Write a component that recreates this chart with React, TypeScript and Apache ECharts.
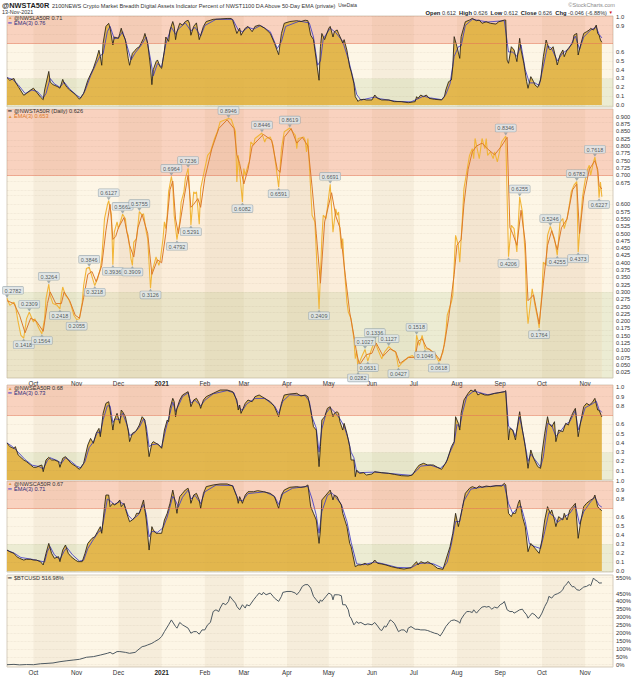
import React, { useEffect, useRef } from "react";
import * as echarts from "echarts";

// x values are calendar days counted from 2020-09-12 (day 0)
const START = Date.UTC(2020, 8, 12);
const DAY = 86400000;
const SPAN_DAYS = 435;

const monthStarts = ["2020-10-01", "2020-11-01", "2020-12-01", "2021-01-01", "2021-02-01", "2021-03-01", "2021-04-01", "2021-05-01", "2021-06-01", "2021-07-01", "2021-08-01", "2021-09-01", "2021-10-01", "2021-11-01"];
const monthLabels = ["Oct", "Nov", "Dec", "2021", "Feb", "Mar", "Apr", "May", "Jun", "Jul", "Aug", "Sep", "Oct", "Nov"];

const breadthTicks = [0, 0.1, 0.2, 0.3, 0.4, 0.5, 0.6, 0.7, 0.8, 0.9, 1.0];
const breadthTicksNoZero = [0.1, 0.2, 0.3, 0.4, 0.5, 0.6, 0.7, 0.8, 0.9, 1.0];
const mainTicks = [0.025, 0.05, 0.075, 0.1, 0.125, 0.15, 0.175, 0.2, 0.225, 0.25, 0.275, 0.3, 0.325, 0.35, 0.375, 0.4, 0.425, 0.45, 0.475, 0.5, 0.525, 0.55, 0.575, 0.6, 0.625, 0.65, 0.675, 0.7, 0.725, 0.75, 0.775, 0.8, 0.825, 0.85, 0.875, 0.9];
const btcTicks = [0, 50, 100, 150, 200, 250, 300, 350, 400, 450, 500, 550];

// @NWSLA50R  [day, value]
const nwsla50r = [[0,0.31],[2,0.28],[5,0.30],[6,0.26],[8,0.21],[12,0.11],[14,0.13],[17,0.17],[19,0.19],[21,0.15],[24,0.09],[26,0.06],[27,0.17],[30,0.38],[31,0.26],[33,0.23],[36,0.21],[38,0.19],[40,0.29],[41,0.25],[43,0.20],[45,0.17],[49,0.12],[52,0.065],[55,0.13],[58,0.28],[62,0.415],[64,0.51],[66,0.62],[67,0.55],[68,0.45],[69,0.70],[71,0.89],[73,0.925],[74,0.87],[76,0.68],[77,0.77],[80,0.755],[81,0.81],[82,0.87],[83,0.81],[85,0.74],[87,0.53],[88,0.45],[90,0.585],[92,0.62],[93,0.64],[95,0.66],[98,0.755],[99,0.81],[101,0.70],[103,0.43],[104,0.23],[105,0.40],[107,0.49],[108,0.51],[110,0.43],[111,0.415],[113,0.62],[114,0.77],[116,0.72],[117,0.85],[119,0.945],[120,0.89],[121,0.74],[122,0.83],[124,0.925],[126,0.905],[128,0.945],[130,0.96],[131,0.925],[132,0.79],[134,0.89],[136,0.93],[137,0.83],[138,0.74],[141,0.89],[143,0.945],[148,0.97],[153,0.975],[158,0.98],[161,0.98],[162,0.96],[165,0.81],[167,0.87],[168,0.79],[171,0.87],[173,0.89],[176,0.83],[178,0.89],[181,0.905],[185,0.87],[189,0.81],[192,0.70],[195,0.57],[197,0.81],[199,0.925],[203,0.945],[208,0.955],[211,0.945],[214,0.96],[216,0.955],[218,0.79],[220,0.74],[222,0.51],[224,0.28],[225,0.66],[226,0.81],[228,0.74],[231,0.87],[232,0.89],[234,0.77],[235,0.83],[237,0.85],[238,0.81],[240,0.74],[241,0.70],[242,0.74],[244,0.62],[246,0.43],[247,0.38],[249,0.245],[250,0.094],[252,0.04],[253,0.057],[256,0.064],[258,0.057],[262,0.057],[264,0.113],[266,0.075],[269,0.057],[274,0.057],[278,0.038],[283,0.038],[288,0.026],[293,0.038],[294,0.094],[295,0.075],[297,0.113],[299,0.094],[301,0.113],[303,0.075],[307,0.064],[312,0.057],[314,0.094],[315,0.17],[317,0.264],[319,0.283],[320,0.434],[321,0.774],[323,0.66],[325,0.528],[326,0.774],[328,0.887],[329,0.943],[332,0.962],[334,0.981],[337,0.955],[339,0.962],[341,0.925],[344,0.943],[347,0.925],[351,0.917],[353,0.943],[357,0.962],[358,0.962],[359,0.509],[360,0.472],[362,0.66],[364,0.623],[366,0.491],[368,0.755],[369,0.623],[371,0.472],[373,0.264],[374,0.189],[376,0.321],[378,0.264],[379,0.226],[381,0.20],[383,0.283],[385,0.547],[387,0.736],[389,0.642],[390,0.623],[392,0.66],[394,0.528],[395,0.453],[397,0.566],[399,0.623],[400,0.547],[402,0.623],[403,0.642],[406,0.698],[407,0.792],[409,0.811],[410,0.566],[412,0.698],[414,0.811],[416,0.83],[418,0.849],[419,0.868],[421,0.849],[423,0.906],[424,0.811],[425,0.792],[426,0.736],[427,0.71]];
const nwsla50rEma = [[0,0.31],[4,0.29],[8,0.23],[13,0.13],[18,0.17],[22,0.15],[26,0.08],[28,0.13],[31,0.30],[34,0.24],[38,0.20],[41,0.26],[45,0.18],[50,0.11],[53,0.08],[56,0.16],[60,0.33],[64,0.47],[67,0.56],[69,0.58],[72,0.83],[74,0.89],[77,0.75],[80,0.76],[83,0.83],[86,0.68],[89,0.51],[92,0.59],[96,0.67],[100,0.77],[103,0.52],[105,0.33],[108,0.47],[111,0.43],[114,0.69],[118,0.88],[121,0.80],[123,0.86],[128,0.93],[132,0.84],[135,0.88],[139,0.78],[142,0.90],[150,0.97],[162,0.97],[166,0.85],[169,0.83],[173,0.88],[177,0.86],[182,0.90],[189,0.83],[194,0.64],[197,0.72],[200,0.89],[210,0.95],[217,0.93],[220,0.77],[223,0.45],[225,0.50],[227,0.75],[232,0.87],[236,0.82],[241,0.72],[245,0.52],[248,0.33],[251,0.12],[254,0.055],[264,0.09],[268,0.07],[280,0.04],[290,0.035],[295,0.07],[299,0.10],[304,0.08],[312,0.06],[315,0.12],[318,0.24],[321,0.55],[324,0.66],[326,0.67],[329,0.90],[334,0.97],[345,0.94],[357,0.955],[360,0.60],[363,0.60],[366,0.55],[369,0.68],[372,0.40],[375,0.25],[379,0.25],[382,0.22],[385,0.44],[388,0.67],[391,0.64],[395,0.50],[399,0.59],[403,0.63],[408,0.78],[411,0.63],[414,0.77],[419,0.85],[423,0.88],[425,0.80],[427,0.76]];

// @NWSTA50R (main panel)  [day, value]
const nwsta50r = [[0,0.2782],[2,0.254],[5,0.265],[6,0.254],[8,0.197],[10,0.151],[12,0.1418],[14,0.208],[16,0.2309],[18,0.208],[19,0.197],[20,0.208],[22,0.185],[23,0.175],[25,0.1564],[27,0.208],[28,0.277],[30,0.3264],[31,0.288],[33,0.26],[36,0.254],[38,0.2418],[39,0.288],[40,0.317],[42,0.288],[44,0.277],[46,0.254],[48,0.22],[50,0.2055],[52,0.208],[54,0.265],[55,0.322],[57,0.38],[59,0.3846],[63,0.3218],[65,0.345],[67,0.38],[68,0.414],[70,0.551],[72,0.597],[73,0.6127],[75,0.563],[76,0.3936],[77,0.505],[79,0.54],[80,0.517],[83,0.5662],[85,0.551],[86,0.505],[87,0.494],[89,0.414],[90,0.3909],[91,0.471],[93,0.483],[95,0.5755],[97,0.563],[98,0.568],[100,0.505],[101,0.483],[103,0.3126],[104,0.368],[106,0.402],[107,0.42],[109,0.391],[110,0.408],[112,0.483],[113,0.54],[114,0.517],[115,0.563],[116,0.643],[118,0.6964],[119,0.666],[120,0.563],[122,0.4792],[124,0.54],[125,0.608],[127,0.643],[128,0.688],[130,0.7236],[131,0.654],[132,0.5291],[134,0.643],[135,0.637],[136,0.643],[138,0.532],[139,0.654],[141,0.70],[144,0.768],[146,0.78],[149,0.826],[151,0.849],[153,0.883],[159,0.8946],[161,0.892],[164,0.849],[165,0.677],[166,0.768],[167,0.711],[169,0.6082],[170,0.723],[171,0.70],[173,0.734],[174,0.746],[175,0.814],[177,0.803],[178,0.826],[183,0.8446],[185,0.814],[186,0.826],[189,0.831],[191,0.803],[193,0.734],[195,0.6591],[197,0.791],[199,0.849],[203,0.8619],[205,0.849],[207,0.837],[208,0.791],[209,0.826],[213,0.831],[214,0.82],[215,0.78],[216,0.826],[219,0.563],[221,0.54],[224,0.2409],[226,0.483],[227,0.563],[229,0.551],[232,0.6691],[234,0.505],[236,0.585],[237,0.563],[238,0.574],[240,0.448],[241,0.483],[242,0.391],[244,0.265],[245,0.231],[247,0.208],[248,0.174],[249,0.14],[250,0.071],[251,0.099],[252,0.0282],[253,0.059],[255,0.082],[257,0.1027],[259,0.0631],[261,0.094],[264,0.1336],[266,0.105],[269,0.071],[271,0.094],[274,0.1127],[277,0.099],[279,0.094],[281,0.0427],[284,0.059],[288,0.076],[291,0.082],[293,0.071],[294,0.1518],[296,0.117],[298,0.151],[300,0.1046],[303,0.105],[307,0.088],[310,0.0618],[313,0.094],[315,0.162],[316,0.22],[319,0.265],[320,0.288],[322,0.494],[324,0.46],[325,0.402],[327,0.563],[328,0.654],[330,0.711],[332,0.768],[334,0.791],[335,0.757],[336,0.826],[338,0.78],[339,0.757],[341,0.826],[343,0.791],[344,0.826],[345,0.768],[347,0.78],[349,0.757],[350,0.78],[352,0.746],[354,0.791],[355,0.814],[358,0.8346],[360,0.4206],[362,0.528],[364,0.517],[366,0.437],[368,0.6255],[370,0.574],[372,0.425],[373,0.254],[374,0.191],[377,0.311],[379,0.254],[381,0.208],[382,0.1764],[384,0.30],[385,0.402],[387,0.391],[388,0.494],[390,0.5246],[393,0.483],[395,0.4255],[397,0.54],[399,0.551],[400,0.517],[402,0.551],[404,0.608],[405,0.643],[407,0.666],[409,0.6782],[410,0.4373],[413,0.62],[414,0.654],[416,0.711],[418,0.734],[419,0.70],[421,0.746],[422,0.7618],[424,0.711],[425,0.6227],[426,0.677],[427,0.626]];
const nwsta50rEma = [[0,0.27],[5,0.26],[9,0.22],[13,0.16],[17,0.21],[21,0.20],[26,0.165],[29,0.26],[31,0.30],[35,0.26],[39,0.26],[41,0.30],[45,0.27],[49,0.22],[52,0.21],[55,0.28],[58,0.36],[61,0.37],[64,0.335],[68,0.39],[71,0.51],[74,0.60],[76,0.48],[78,0.49],[80,0.52],[84,0.555],[88,0.46],[91,0.42],[94,0.52],[97,0.565],[101,0.50],[104,0.36],[108,0.41],[111,0.40],[114,0.50],[117,0.65],[119,0.68],[121,0.55],[123,0.50],[127,0.62],[130,0.70],[132,0.59],[134,0.60],[137,0.62],[139,0.59],[142,0.69],[147,0.79],[152,0.86],[158,0.89],[163,0.86],[165,0.77],[167,0.74],[170,0.67],[173,0.72],[176,0.80],[184,0.84],[190,0.82],[194,0.72],[196,0.71],[199,0.83],[204,0.86],[208,0.81],[212,0.83],[216,0.80],[219,0.66],[222,0.50],[225,0.33],[228,0.54],[233,0.64],[236,0.56],[239,0.52],[243,0.35],[246,0.23],[249,0.15],[251,0.09],[253,0.05],[258,0.085],[262,0.09],[265,0.125],[270,0.08],[275,0.105],[279,0.095],[282,0.055],[288,0.075],[293,0.076],[295,0.13],[298,0.14],[301,0.11],[307,0.09],[311,0.065],[314,0.12],[317,0.21],[321,0.36],[323,0.46],[326,0.48],[328,0.60],[331,0.72],[334,0.78],[337,0.80],[341,0.81],[345,0.79],[350,0.77],[355,0.80],[359,0.83],[361,0.52],[363,0.50],[366,0.46],[369,0.58],[372,0.47],[374,0.27],[378,0.29],[382,0.19],[385,0.33],[388,0.46],[391,0.51],[395,0.445],[398,0.52],[402,0.55],[406,0.65],[409,0.67],[411,0.50],[414,0.63],[418,0.72],[422,0.75],[424,0.72],[425,0.665],[427,0.653]];
// labelled swing points of the main panel: [day, side]
const mainSwingLabels = [[0,"t"],[12,"b"],[16,"t"],[25,"b"],[30,"t"],[38,"b"],[50,"b"],[59,"t"],[63,"b"],[73,"t"],[76,"b"],[83,"t"],[90,"b"],[95,"t"],[103,"b"],[118,"t"],[122,"b"],[130,"t"],[132,"b"],[159,"t"],[169,"b"],[183,"t"],[195,"b"],[203,"t"],[224,"b"],[232,"t"],[252,"b"],[257,"t"],[259,"b"],[264,"t"],[274,"t"],[281,"b"],[294,"t"],[300,"b"],[310,"b"],[358,"t"],[360,"b"],[368,"t"],[382,"b"],[390,"t"],[395,"b"],[409,"t"],[410,"b"],[422,"t"],[425,"b"]];

// @NWSEA50R
const nwsea50r = [[0,0.40],[2,0.36],[5,0.34],[6,0.36],[8,0.27],[12,0.216],[14,0.198],[17,0.162],[19,0.137],[21,0.137],[23,0.151],[25,0.162],[26,0.09],[28,0.216],[30,0.245],[32,0.216],[34,0.216],[37,0.198],[38,0.137],[40,0.234],[42,0.252],[44,0.216],[46,0.18],[49,0.151],[52,0.115],[55,0.18],[58,0.378],[60,0.449],[62,0.396],[64,0.504],[66,0.557],[67,0.467],[68,0.593],[69,0.719],[71,0.827],[73,0.845],[74,0.755],[76,0.539],[77,0.647],[79,0.719],[81,0.611],[82,0.755],[83,0.737],[85,0.683],[87,0.539],[88,0.414],[90,0.504],[92,0.521],[93,0.539],[95,0.593],[97,0.683],[99,0.647],[100,0.521],[102,0.252],[104,0.396],[105,0.414],[107,0.396],[109,0.378],[110,0.36],[111,0.342],[113,0.539],[115,0.647],[116,0.629],[117,0.773],[119,0.881],[120,0.845],[121,0.683],[122,0.773],[124,0.863],[126,0.917],[128,0.935],[130,0.953],[131,0.881],[132,0.791],[134,0.863],[136,0.881],[138,0.827],[139,0.773],[141,0.863],[143,0.899],[148,0.935],[153,0.971],[158,0.971],[162,0.953],[165,0.863],[166,0.755],[167,0.809],[168,0.719],[171,0.827],[173,0.863],[176,0.845],[178,0.899],[181,0.917],[185,0.881],[189,0.845],[192,0.791],[195,0.683],[197,0.827],[199,0.917],[203,0.928],[208,0.935],[211,0.906],[214,0.917],[216,0.899],[218,0.755],[220,0.575],[222,0.539],[224,0.144],[225,0.36],[226,0.647],[228,0.683],[230,0.773],[232,0.791],[234,0.683],[235,0.719],[237,0.737],[238,0.719],[239,0.629],[241,0.539],[242,0.611],[244,0.504],[246,0.36],[247,0.216],[249,0.216],[250,0.036],[251,0.108],[253,0.072],[256,0.079],[258,0.054],[262,0.065],[264,0.09],[269,0.079],[274,0.072],[278,0.061],[283,0.047],[288,0.043],[291,0.054],[294,0.126],[296,0.162],[299,0.18],[302,0.162],[306,0.162],[309,0.137],[312,0.115],[314,0.162],[316,0.216],[319,0.36],[321,0.414],[322,0.683],[324,0.611],[325,0.539],[326,0.719],[328,0.863],[331,0.935],[333,0.971],[335,0.953],[336,0.978],[338,0.917],[340,0.935],[343,0.917],[346,0.917],[350,0.935],[353,0.942],[357,0.953],[358,0.964],[360,0.432],[361,0.557],[363,0.539],[365,0.432],[367,0.647],[368,0.737],[370,0.539],[372,0.36],[374,0.126],[376,0.324],[378,0.234],[381,0.144],[383,0.126],[384,0.288],[386,0.504],[388,0.683],[389,0.611],[391,0.575],[393,0.629],[394,0.414],[396,0.539],[399,0.521],[401,0.611],[403,0.593],[404,0.647],[406,0.719],[408,0.773],[410,0.467],[412,0.647],[414,0.791],[416,0.827],[418,0.809],[420,0.834],[422,0.881],[424,0.755],[425,0.755],[427,0.68]];
const nwsea50rEma = [[0,0.40],[4,0.36],[8,0.30],[13,0.22],[18,0.16],[23,0.145],[26,0.12],[29,0.21],[31,0.24],[36,0.21],[39,0.18],[42,0.24],[46,0.20],[50,0.15],[53,0.13],[56,0.20],[59,0.35],[62,0.41],[65,0.52],[67,0.50],[69,0.65],[72,0.80],[74,0.80],[76,0.62],[78,0.66],[81,0.65],[83,0.72],[86,0.60],[88,0.48],[91,0.50],[95,0.57],[98,0.66],[100,0.58],[102,0.36],[104,0.38],[108,0.39],[111,0.35],[114,0.55],[117,0.72],[119,0.84],[121,0.74],[123,0.80],[126,0.90],[130,0.94],[132,0.83],[135,0.86],[139,0.80],[142,0.86],[148,0.93],[158,0.965],[163,0.94],[166,0.79],[169,0.75],[172,0.82],[178,0.88],[185,0.88],[192,0.80],[195,0.72],[198,0.85],[203,0.92],[214,0.91],[217,0.85],[219,0.68],[222,0.56],[224,0.30],[226,0.55],[229,0.72],[232,0.78],[236,0.72],[239,0.66],[242,0.58],[245,0.44],[247,0.30],[249,0.24],[251,0.09],[254,0.08],[264,0.085],[275,0.07],[290,0.05],[294,0.10],[297,0.15],[304,0.16],[311,0.125],[315,0.18],[318,0.30],[321,0.40],[323,0.60],[325,0.57],[327,0.73],[330,0.90],[335,0.96],[345,0.92],[358,0.955],[360,0.58],[363,0.54],[365,0.47],[368,0.68],[371,0.46],[374,0.20],[376,0.28],[379,0.22],[383,0.14],[385,0.25],[388,0.61],[391,0.59],[394,0.47],[397,0.52],[401,0.60],[404,0.63],[408,0.75],[410,0.54],[412,0.63],[415,0.78],[420,0.82],[423,0.85],[425,0.76],[427,0.73]];

// @NWSCA50R
const nwsca50r = [[0,0.233],[2,0.215],[5,0.196],[7,0.159],[9,0.141],[12,0.122],[14,0.13],[17,0.13],[19,0.122],[21,0.122],[24,0.104],[26,0.067],[28,0.196],[30,0.307],[32,0.196],[34,0.141],[37,0.159],[38,0.104],[40,0.233],[42,0.289],[44,0.196],[46,0.159],[49,0.122],[51,0.104],[54,0.104],[56,0.196],[58,0.307],[61,0.363],[63,0.381],[65,0.437],[67,0.493],[68,0.419],[70,0.715],[71,0.844],[73,0.844],[74,0.715],[76,0.752],[77,0.733],[79,0.752],[81,0.789],[82,0.715],[84,0.752],[86,0.641],[88,0.548],[90,0.567],[92,0.604],[93,0.641],[95,0.641],[98,0.789],[100,0.567],[102,0.233],[104,0.493],[105,0.456],[107,0.419],[109,0.419],[111,0.419],[113,0.567],[115,0.641],[117,0.752],[119,0.90],[120,0.826],[122,0.641],[123,0.752],[124,0.826],[126,0.863],[128,0.90],[130,0.919],[131,0.863],[132,0.752],[134,0.844],[136,0.863],[138,0.789],[139,0.696],[141,0.863],[143,0.937],[148,0.956],[153,0.967],[158,0.967],[162,0.944],[165,0.826],[166,0.752],[167,0.826],[169,0.752],[171,0.844],[173,0.881],[177,0.881],[180,0.893],[184,0.881],[189,0.863],[192,0.826],[195,0.696],[197,0.844],[199,0.90],[203,0.93],[208,0.937],[211,0.93],[214,0.937],[216,0.956],[218,0.715],[220,0.641],[222,0.567],[224,0.307],[225,0.456],[226,0.789],[229,0.844],[231,0.881],[232,0.90],[234,0.789],[235,0.844],[237,0.826],[238,0.789],[240,0.733],[241,0.641],[244,0.493],[246,0.307],[247,0.27],[249,0.122],[250,0.048],[252,0.067],[254,0.067],[257,0.085],[259,0.067],[262,0.085],[264,0.122],[266,0.085],[269,0.078],[272,0.067],[276,0.048],[281,0.03],[285,0.022],[290,0.037],[294,0.104],[295,0.067],[297,0.104],[300,0.085],[302,0.104],[306,0.067],[309,0.03],[313,0.019],[315,0.122],[318,0.27],[320,0.419],[322,0.641],[324,0.493],[325,0.567],[327,0.715],[329,0.863],[332,0.919],[334,0.937],[337,0.919],[339,0.944],[341,0.93],[344,0.944],[347,0.937],[351,0.948],[355,0.944],[357,0.974],[358,0.956],[360,0.641],[362,0.604],[363,0.641],[365,0.641],[367,0.752],[368,0.789],[370,0.604],[372,0.493],[374,0.215],[376,0.307],[379,0.252],[382,0.196],[384,0.344],[386,0.567],[388,0.715],[390,0.641],[391,0.678],[393,0.567],[394,0.493],[396,0.604],[399,0.567],[400,0.641],[402,0.567],[404,0.678],[406,0.715],[408,0.752],[410,0.363],[412,0.567],[414,0.715],[416,0.752],[419,0.789],[421,0.807],[422,0.844],[424,0.715],[425,0.696],[427,0.67]];
const nwsca50rEma = [[0,0.23],[5,0.20],[10,0.15],[18,0.13],[24,0.11],[27,0.10],[29,0.22],[31,0.27],[34,0.18],[38,0.13],[41,0.22],[43,0.26],[47,0.18],[52,0.11],[55,0.12],[58,0.25],[62,0.35],[66,0.44],[68,0.45],[70,0.62],[72,0.80],[74,0.78],[77,0.74],[81,0.77],[84,0.74],[87,0.62],[90,0.57],[94,0.62],[98,0.74],[100,0.63],[102,0.38],[104,0.44],[108,0.43],[112,0.48],[115,0.60],[119,0.83],[121,0.78],[123,0.71],[126,0.82],[130,0.90],[132,0.80],[135,0.84],[139,0.75],[142,0.88],[150,0.955],[162,0.95],[166,0.79],[169,0.78],[173,0.86],[185,0.88],[192,0.83],[195,0.74],[198,0.86],[205,0.92],[216,0.94],[219,0.80],[222,0.62],[224,0.42],[226,0.66],[230,0.84],[233,0.87],[236,0.82],[240,0.74],[244,0.55],[247,0.32],[249,0.20],[251,0.08],[256,0.07],[264,0.10],[270,0.08],[280,0.04],[290,0.035],[295,0.08],[300,0.09],[306,0.08],[313,0.03],[316,0.10],[319,0.30],[322,0.55],[325,0.55],[328,0.78],[333,0.91],[340,0.93],[357,0.955],[360,0.75],[363,0.64],[367,0.71],[369,0.72],[372,0.55],[375,0.30],[379,0.27],[383,0.25],[386,0.44],[389,0.65],[393,0.60],[395,0.54],[400,0.60],[404,0.64],[408,0.73],[411,0.52],[414,0.66],[419,0.77],[422,0.82],[425,0.73],[427,0.71]];

// $BTCUSD, % change from first day
const btcusd = [[0,0],[5,2],[9,-1],[14,1],[19,0],[24,6],[28,8],[33,11],[38,19],[43,25],[48,30],[52,34],[57,47],[62,51],[67,61],[72,72],[74,78],[76,68],[79,83],[81,83],[85,78],[88,72],[92,78],[94,93],[97,114],[99,118],[101,125],[104,135],[106,146],[109,161],[111,178],[113,209],[116,252],[118,283],[121,241],[122,231],[124,267],[126,252],[130,231],[132,199],[134,209],[136,209],[138,193],[140,220],[142,220],[144,252],[146,267],[148,336],[150,347],[152,336],[153,358],[155,389],[157,379],[159,400],[160,432],[162,410],[164,389],[165,368],[167,347],[169,379],[171,358],[172,379],[174,372],[177,410],[179,432],[181,453],[183,442],[184,457],[186,442],[189,453],[191,432],[192,421],[195,400],[197,432],[198,457],[201,463],[204,463],[207,453],[208,442],[210,463],[212,495],[214,506],[216,506],[218,484],[220,432],[222,410],[224,389],[225,410],[226,400],[228,421],[229,432],[231,453],[233,442],[234,410],[235,442],[237,442],[238,442],[240,436],[241,379],[243,379],[245,347],[246,305],[247,294],[249,252],[250,262],[251,273],[252,262],[254,267],[257,252],[259,258],[262,252],[264,267],[266,245],[268,220],[269,216],[271,245],[272,237],[274,267],[275,283],[276,279],[278,262],[279,245],[281,209],[283,220],[285,220],[287,203],[288,231],[290,241],[293,224],[295,224],[297,220],[300,220],[302,216],[304,209],[307,199],[309,195],[311,182],[313,209],[315,241],[318,273],[319,279],[321,283],[324,273],[325,262],[326,288],[328,315],[330,336],[332,336],[334,330],[335,347],[337,326],[339,347],[341,364],[343,368],[344,364],[346,368],[348,351],[350,364],[352,358],[354,379],[356,389],[357,400],[359,347],[361,336],[363,336],[364,326],[366,336],[368,347],[370,351],[371,336],[373,315],[374,294],[375,305],[377,326],[379,315],[381,294],[382,294],[384,326],[386,368],[388,400],[389,432],[391,421],[393,442],[395,448],[397,457],[399,474],[400,495],[402,512],[403,527],[404,512],[406,491],[407,495],[409,474],[411,470],[413,484],[414,491],[416,495],[418,506],[419,499],[421,548],[422,537],[424,527],[425,516],[427,516.98]];

const FONT = "'Liberation Sans', Arial, Helvetica, sans-serif";
const toT = (d: number) => START + d * DAY;
const toSeries = (arr: number[][]) => arr.map(([d, v]) => [toT(d), v]);
const last = (arr: number[][]) => arr[arr.length - 1][1];
const monthTimes = monthStarts.map((s) => Date.parse(s + "T00:00:00Z"));

const COL_RED_BAND = "rgba(242,116,86,0.27)";
const COL_GREEN_BAND = "rgba(150,185,110,0.16)";
const COL_GOLD = "rgba(226,180,72,0.96)";
const COL_BLACK = "#2f2718";
const COL_BLUE = "#4a44c6";

function buildOption(): any {
  const panels = [
    { top: 16, height: 91, min: -0.023, max: 1.008, ticks: breadthTicks, dec: 1, bands: true, badges: [last(nwsla50rEma), last(nwsla50r)], gap: 0.045 },
    { top: 109, height: 269, min: 0.005, max: 0.927, ticks: mainTicks, dec: 3, bands: true, badges: [last(nwsta50rEma), last(nwsta50r)], gap: 0.012 },
    { top: 385, height: 95, min: 0, max: 1.025, ticks: breadthTicksNoZero, dec: 1, bands: true, badges: [last(nwsea50rEma), last(nwsea50r)], gap: 0.045 },
    { top: 481, height: 91, min: -0.011, max: 1.0, ticks: breadthTicks, dec: 1, bands: true, badges: [last(nwsca50rEma), last(nwsca50r)], gap: 0.045 },
    { top: 575, height: 92, min: -14.5, max: 567, ticks: btcTicks, dec: -1, bands: false, badges: [last(btcusd)], gap: 30 },
  ];

  const stripeData: any[] = [];
  for (let k = 0; k + 1 < monthTimes.length; k += 2) stripeData.push([{ xAxis: monthTimes[k] }, { xAxis: monthTimes[k + 1] }]);

  const series: any[] = [];
  panels.forEach((p, i) => {
    series.push({
      type: "line", xAxisIndex: i, yAxisIndex: i, data: [], z: 1, silent: true,
      markArea: { silent: true, itemStyle: { color: "rgba(150,128,90,0.07)" }, data: stripeData },
      markLine: {
        silent: true, symbol: ["none", "none"], label: { show: false },
        lineStyle: { color: "rgba(120,105,80,0.14)", type: "dotted", width: 0.7 },
        data: p.ticks.map((v) => ({ yAxis: v })),
      },
    });
    if (p.bands) {
      series.push({
        type: "line", xAxisIndex: i, yAxisIndex: i, data: [], z: 3, silent: true,
        markArea: {
          silent: true,
          data: [
            [{ yAxis: 0.7, itemStyle: { color: COL_RED_BAND } }, { yAxis: p.max }],
            [{ yAxis: p.min, itemStyle: { color: COL_GREEN_BAND } }, { yAxis: 0.3 }],
          ],
        },
        markLine: {
          silent: true, symbol: ["none", "none"], label: { show: false },
          lineStyle: { color: "rgba(232,118,88,0.55)", type: "solid", width: 1 },
          data: [{ yAxis: 0.7 }],
        },
      });
    }
  });

  const breadth = (i: number, data: number[][], ema: number[][]) => {
    series.push({ type: "line", xAxisIndex: i, yAxisIndex: i, data: toSeries(data), symbol: "none", z: 2, silent: true, lineStyle: { width: 0 }, areaStyle: { color: COL_GOLD, opacity: 1 } });
    series.push({ type: "line", xAxisIndex: i, yAxisIndex: i, data: toSeries(ema), symbol: "none", z: 4, silent: true, lineStyle: { color: COL_BLUE, width: 0.9 } });
    series.push({ type: "line", xAxisIndex: i, yAxisIndex: i, data: toSeries(data), symbol: "none", z: 4, silent: true, lineStyle: { color: COL_BLACK, width: 0.9 } });
  };
  breadth(0, nwsla50r, nwsla50rEma);
  breadth(2, nwsea50r, nwsea50rEma);
  breadth(3, nwsca50r, nwsca50rEma);

  // main panel
  series.push({ type: "line", xAxisIndex: 1, yAxisIndex: 1, data: toSeries(nwsta50r), symbol: "none", z: 4, silent: true, lineStyle: { color: "#f2b638", width: 1.1 }, areaStyle: { color: "rgba(236,140,80,0.12)" } });
  series.push({ type: "line", xAxisIndex: 1, yAxisIndex: 1, data: toSeries(nwsta50rEma), symbol: "none", z: 4, silent: true, lineStyle: { color: "#dc7a2c", width: 1 } });
  series.push({
    type: "scatter", xAxisIndex: 1, yAxisIndex: 1, z: 6, silent: true,
    symbol: "triangle", symbolSize: [4, 3],
    itemStyle: { color: "#8f9ca3" },
    data: mainSwingLabels.map(([d, side]) => {
      const pt = nwsta50r.find((q) => q[0] === d) as number[];
      const v = pt ? pt[1] : 0;
      const top = side === "t";
      return {
        value: [toT(d as number), v],
        symbolRotate: top ? 180 : 0,
        symbolOffset: [0, top ? -2 : 2],
        label: {
          show: true, position: top ? "top" : "bottom", distance: top ? 0.8 : -0.5,
          offset: d === 0 ? [6, 0] : [0, 0],
          formatter: v.toFixed(4), fontSize: 5.5, fontFamily: FONT, color: "#2c3438",
          backgroundColor: "#dde5e8", borderColor: "#98a6ad", borderWidth: 0.6, borderRadius: 1,
          padding: [0.8, 1.8, 0.3, 1.8], lineHeight: 6.2,
        },
      };
    }),
  });

  // BTC panel
  series.push({ type: "line", xAxisIndex: 4, yAxisIndex: 4, data: toSeries(btcusd), symbol: "none", z: 4, silent: true, lineStyle: { color: "#4d5961", width: 1 } });

  // value badges on the right axis: EMA and last value stacked in one label
  const badgeStyle = (dark: boolean, border: string) => ({
    fontSize: 5.2, fontWeight: "bold", fontFamily: FONT,
    color: dark ? "#ffffff" : "#222222", backgroundColor: dark ? "#2b2b2b" : "#ffffff",
    borderColor: border, borderWidth: 0.8, padding: [0.2, 1.3, 0, 1.3], borderRadius: 1, lineHeight: 5.4,
  });
  const badgePair = (i: number, emaV: number, v: number, digits: number, emaBorder: string) => {
    const e = `{e|${emaV.toFixed(digits)}}`;
    const c = `{v|${v.toFixed(digits)}}`;
    series.push({
      type: "line", xAxisIndex: i, yAxisIndex: i, data: [], z: 8, silent: true,
      markLine: {
        silent: true, symbol: ["none", "none"], lineStyle: { opacity: 0 },
        data: [{
          yAxis: (emaV + v) / 2,
          label: {
            show: true, position: "end", distance: 2, offset: [0, -0.6],
            formatter: emaV >= v ? `${e}\n${c}` : `${c}\n${e}`,
            rich: { e: badgeStyle(false, emaBorder), v: badgeStyle(true, "#111") },
          },
        }],
      },
    });
  };
  badgePair(0, last(nwsla50rEma), last(nwsla50r), 2, COL_BLUE);
  badgePair(1, last(nwsta50rEma), last(nwsta50r), 3, "#e08a3a");
  badgePair(2, last(nwsea50rEma), last(nwsea50r), 2, COL_BLUE);
  badgePair(3, last(nwsca50rEma), last(nwsca50r), 2, COL_BLUE);
  series.push({
    type: "line", xAxisIndex: 4, yAxisIndex: 4, data: [], z: 8, silent: true,
    markLine: {
      silent: true, symbol: ["none", "none"], lineStyle: { opacity: 0 },
      data: [{
        yAxis: last(btcusd),
        label: {
          show: true, position: "end", distance: 2, formatter: last(btcusd).toFixed(2) + "%", fontSize: 5.8, fontWeight: "bold", fontFamily: FONT,
          color: "#222", backgroundColor: "#d9e1e6", borderColor: "#5d6a72", borderWidth: 0.8, padding: [0.5, 1.5, 0.2, 1.5], lineHeight: 6.2,
        },
      }],
    },
  });

  const txt = (x: number, y: number, text: string, size: number, fill: string, extra: any = {}) => ({
    type: "text", x, y, silent: true, z: 100,
    style: { text, fill, font: `${extra.bold ? "bold " : ""}${size}px ${FONT}`, textVerticalAlign: "middle", textAlign: extra.align || "left", rich: extra.rich },
  });
  const legend = (y: number, marker: string, mColor: string, text: string, tColor: string, size = 5.6) => [
    txt(8, y, marker, marker === "▲" ? 4.5 : 5.6, mColor),
    txt(14, y, text, size, tColor),
  ];

  const graphic: any[] = [
    txt(2, 5.5, "@NWSTA50R", 7.4, "#1e1e1e", { bold: true }),
    txt(52, 5.5, "2100NEWS Crypto Market Breadth Digital Assets Indicator Percent of NWST1100 DA Above 50-Day EMA (private) {u|UseData}", 5.6, "#333", {
      rich: { u: { fontSize: 4.8, fill: "#333", fontFamily: FONT } },
    }),
    txt(2, 12.3, "13-Nov-2021", 5.4, "#333"),
    txt(615, 5, "©StockCharts.com", 5.6, "#8a8a8a", { align: "right" }),
    txt(613, 12.5, "{b|Open} 0.612  {b|High} 0.626  {b|Low} 0.612  {b|Close} 0.626  {b|Chg} -0.046 (-6.88%) {r|▼}", 5.6, "#333", {
      align: "right",
      rich: { b: { fontWeight: "bold", fontSize: 5.8, fill: "#222", fontFamily: FONT }, r: { fill: "#d02020", fontSize: 4.5, fontFamily: FONT } },
    }),
    ...legend(17.8, "▲", "#e39a3a", `@NWSLA50R ${last(nwsla50r).toFixed(2)}`, "#333"),
    ...legend(22.8, "━", COL_BLUE, `EMA(3) ${last(nwsla50rEma).toFixed(2)}`, "#2e2a7a"),
    ...legend(111, "━", "#222", `@NWSTA50R (Daily) ${last(nwsta50r).toFixed(3)}`, "#333"),
    ...legend(116, "▲", "#e39a3a", `EMA(3) ${last(nwsta50rEma).toFixed(3)}`, "#e07a2a"),
    ...legend(388.3, "▲", "#e39a3a", `@NWSEA50R ${last(nwsea50r).toFixed(2)}`, "#333"),
    ...legend(393.3, "━", COL_BLUE, `EMA(3) ${last(nwsea50rEma).toFixed(2)}`, "#2e2a7a"),
    ...legend(483.5, "▲", "#e39a3a", `@NWSCA50R ${last(nwsca50r).toFixed(2)}`, "#333"),
    ...legend(488.5, "━", COL_BLUE, `EMA(3) ${last(nwsca50rEma).toFixed(2)}`, "#2e2a7a"),
    ...legend(578, "━", "#333", `$BTCUSD ${last(btcusd).toFixed(2)}%`, "#333"),
  ];

  return {
    animation: false,
    backgroundColor: "#ffffff",
    textStyle: { fontFamily: FONT },
    grid: panels.map((p) => ({
      left: 7, width: 606, top: p.top, height: p.height, show: true,
      backgroundColor: "#fdf6e6", borderColor: "#d6cdbd", borderWidth: 1,
    })),
    xAxis: panels.map((p, i) => ({
      type: "value", gridIndex: i, min: toT(0), max: toT(SPAN_DAYS),
      axisLine: { show: false }, axisTick: { show: false }, splitLine: { show: false },
      axisLabel: i === 1 || i === 4
        ? {
            show: true, customValues: monthTimes, hideOverlap: false, fontSize: 6.3, color: "#333", margin: 2, fontFamily: FONT,
            formatter: (v: number) => {
              let best = 0;
              monthTimes.forEach((m, j) => { if (Math.abs(m - v) < Math.abs(monthTimes[best] - v)) best = j; });
              const s = monthLabels[best];
              return s === "2021" ? "{b|2021}" : s;
            },
            rich: { b: { fontWeight: "bold", fontSize: 6.5, color: "#1e1e1e", fontFamily: FONT } },
          }
        : { show: false },
    })),
    yAxis: panels.map((p, i) => ({
      type: "value", gridIndex: i, position: "right", min: p.min, max: p.max,
      axisLine: { show: false }, axisTick: { show: false }, splitLine: { show: false },
      axisLabel: {
        customValues: p.ticks.filter((v) => p.badges.every((b) => Math.abs(b - v) > p.gap)),
        fontSize: i === 1 ? 5.7 : 5.9, color: "#333", margin: 3, fontFamily: FONT, hideOverlap: false,
        formatter: (v: number) => (p.dec < 0 ? `${Math.round(v)}%` : v.toFixed(p.dec)),
      },
    })),
    series,
    graphic,
  };
}

export default function App() {
  const ref = useRef<HTMLDivElement>(null);
  useEffect(() => {
    if (!ref.current) return;
    const chart = echarts.init(ref.current, null, { renderer: "svg" });
    chart.setOption(buildOption());
    return () => chart.dispose();
  }, []);
  return <div ref={ref} style={{ position: "absolute", left: 0, top: 0, width: 640, height: 677, background: "#fff" }} />;
}
